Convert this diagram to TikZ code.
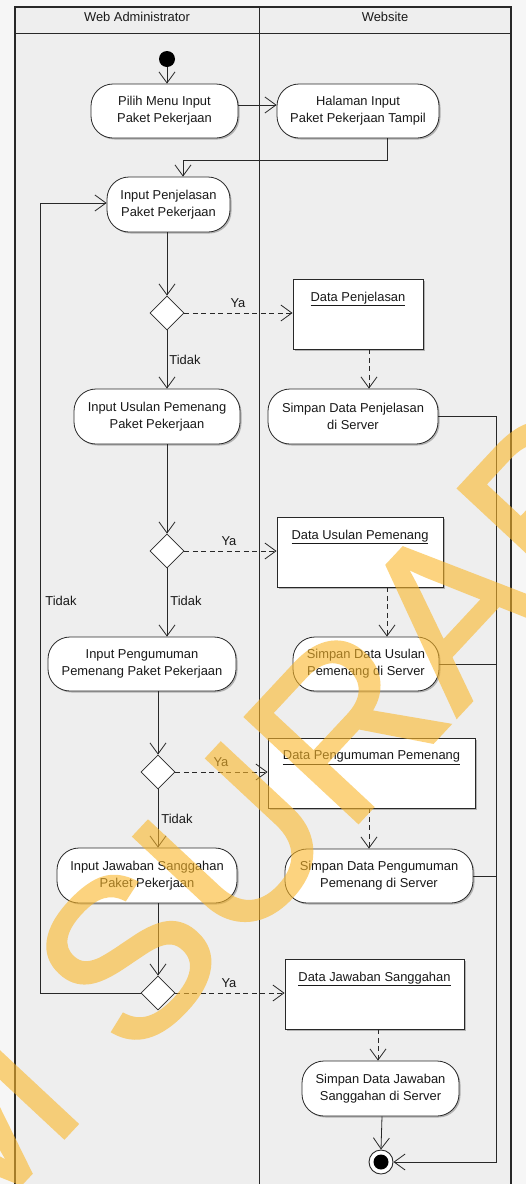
\documentclass[tikz,border=0pt]{standalone}
\usepackage{fontspec}
\setmainfont{Liberation Sans}
\newfontfamily\stampfont{Liberation Sans}[FakeBold=1.2]
\usetikzlibrary{arrows.meta,shapes.geometric,shadows}
\definecolor{lanebg}{RGB}{238,238,238}
\definecolor{pagebg}{RGB}{246,246,246}
\definecolor{edgecol}{RGB}{40,40,40}
\definecolor{inkcol}{RGB}{25,25,25}
\definecolor{wmyellow}{RGB}{250,183,42}

\begin{document}
\begin{tikzpicture}[x=1pt,y=-1pt,
  font=\fontsize{12.9}{17}\selectfont,
  every node/.style={text=inkcol},
  softshadow/.style={drop shadow={shadow xshift=1.5pt,shadow yshift=-1.5pt,fill=black,opacity=0.25}},
  act/.style={draw=edgecol,fill=white,rounded corners=22pt,line width=0.8pt,
    align=center,inner sep=0pt,minimum height=54pt,softshadow},
  obj/.style={draw=edgecol,fill=white,line width=0.9pt,inner sep=0pt,
    minimum height=70pt,softshadow},
  objtitle/.style={anchor=north,yshift=-13pt,inner sep=0pt},
  choice/.style={shape=diamond,draw=edgecol,fill=white,line width=0.8pt,
    minimum width=34pt,minimum height=34pt,inner sep=0pt},
  startdot/.style={circle,fill=black,minimum size=16pt,inner sep=0pt},
  enddot/.style={circle,draw=edgecol,fill=white,line width=0.9pt,minimum size=24pt,inner sep=0pt,
    path picture={\fill[black] (path picture bounding box.center) circle (7.5pt);}},
  lanehead/.style={inner sep=0pt},
  guard/.style={inner sep=0pt},
  flow/.style={draw=edgecol,line width=0.8pt,-{Straight Barb[length=11pt,width=16pt]}},
  dataflow/.style={flow,dash pattern=on 5pt off 3.5pt},
  plainline/.style={draw=edgecol,line width=0.8pt},
  wmark/.style={rotate=47,inner sep=0pt,text=wmyellow,
    font=\stampfont\fontsize{225}{225}\selectfont}
]
\useasboundingbox (0,0) rectangle (526,1184);

% swimlanes
\fill[pagebg] (0,0) rectangle (526,1184);
\fill[lanebg] (15,7) rectangle (511,1190);
\draw[edgecol,line width=0.8pt] (15,33) -- (511,33);
\draw[edgecol,line width=0.8pt] (259.5,7) -- (259.5,1190);
\draw[edgecol,line width=1.6pt] (15,1190) -- (15,7) -- (511,7) -- (511,1190);
\node[lanehead] (lane1) at (137,17) {Web Administrator};
\node[lanehead] (lane2) at (385,17) {Website};

% activities, decisions and objects
\node[startdot] (s0) at (167,59) {};
\node[act,minimum width=147pt] (a1) at (164.5,111) {Pilih Menu Input\\Paket Pekerjaan};
\node[act,minimum width=162pt] (w1) at (358,111) {Halaman Input\\Paket Pekerjaan Tampil};
\node[act,minimum width=123pt,minimum height=55pt] (a2) at (168.5,204.5) {Input Penjelasan\\Paket Pekerjaan};

\node[choice] (d1) at (167,313) {};
\node[obj,minimum width=130pt,label={[objtitle,name=o1t]north:\underline{Data Penjelasan}}] (o1) at (358,314) {};
\node[act,minimum width=166pt,minimum height=55pt] (a3) at (157,416.5) {Input Usulan Pemenang\\Paket Pekerjaan};
\node[act,minimum width=170pt,minimum height=55pt] (w2) at (353,416.5) {Simpan Data Penjelasan\\di Server};

\node[choice] (d2) at (167,551) {};
\node[obj,minimum width=166pt,label={[objtitle,name=o2t]north:\underline{Data Usulan Pemenang}}] (o2) at (360,552) {};
\node[act,minimum width=188pt] (a4) at (142,664) {Input Pengumuman\\Pemenang Paket Pekerjaan};
\node[act,minimum width=146pt] (w3) at (366,664) {Simpan Data Usulan\\Pemenang di Server};

\node[choice] (d3) at (158,772) {};
\node[obj,minimum width=207pt,label={[objtitle,name=o3t]north:\underline{Data Pengumuman Pemenang}}] (o3) at (371.5,773) {};
\node[act,minimum width=180pt,minimum height=55pt] (a5) at (147,875.5) {Input Jawaban Sanggahan\\Paket Pekerjaan};
\node[act,minimum width=188pt] (w4) at (379,876) {Simpan Data Pengumuman\\Pemenang di Server};

\node[choice] (d4) at (158,993) {};
\node[obj,minimum width=179pt,label={[objtitle,name=o4t]north:\underline{Data Jawaban Sanggahan}}] (o4) at (374.5,994) {};
\node[act,minimum width=157pt,minimum height=55pt] (w5) at (380.5,1088.5) {Simpan Data Jawaban\\Sanggahan di Server};
\node[enddot] (fin) at (381,1162) {};

% guard labels
\node[guard] (g1y) at (238,303) {Ya};
\node[guard] (g1n) at (185,360) {Tidak};
\node[guard] (g2y) at (229,541) {Ya};
\node[guard] (g2n) at (186,601) {Tidak};
\node[guard] (g3y) at (221,762) {Ya};
\node[guard] (g3n) at (177,819) {Tidak};
\node[guard] (g4y) at (229,983) {Ya};
\node[guard] (g4n) at (61,601) {Tidak};

% helper coordinates for bends and offsets
\coordinate (y105) at (0,105);
\coordinate (x387) at (387,0);
\coordinate (k1) at (183,160);
\coordinate (x369) at (369,0);
\coordinate (x387b) at (387,0);
\coordinate (x378) at (378,0);
\coordinate (x382) at (382,0);
\coordinate (rx) at (496,0);
\coordinate (lx) at (40,0);
\coordinate (ly) at (0,203);

% control flow
\draw[flow] (s0) -- (s0 |- a1.north);
\draw[flow] (a1.east |- y105) -- (w1.west |- y105);
\draw[flow] (w1.south -| x387) |- (k1) -- (k1 |- a2.north);
\draw[flow] (d1 |- a2.south) -- (d1.north);
\draw[flow] (d1.south) -- (d1 |- a3.north);
\draw[flow] (d2 |- a3.south) -- (d2.north);
\draw[flow] (d2.south) -- (d2 |- a4.north);
\draw[flow] (d3 |- a4.south) -- (d3.north);
\draw[flow] (d3.south) -- (d3 |- a5.north);
\draw[flow] (d4 |- a5.south) -- (d4.north);
\draw[flow] (d4.west) -- (d4.west -| lx) -- (lx |- ly) -- (a2.west |- ly);
\draw[flow] (w5.south -| x382) -- (fin.north);
\draw[flow] (w2.east) -- (w2.east -| rx) -- (rx |- fin) -- (fin.east);
\draw[plainline] (w3.east) -- (w3.east -| rx);
\draw[plainline] (w4.east) -- (w4.east -| rx);

% object flow
\draw[dataflow] (d1.east) -- (o1.west |- d1);
\draw[dataflow] (d2.east) -- (o2.west |- d2);
\draw[dataflow] (d3.east) -- (o3.west |- d3);
\draw[dataflow] (d4.east) -- (o4.west |- d4);
\draw[dataflow] (o1.south -| x369) -- (x369 |- w2.north);
\draw[dataflow] (o2.south -| x387b) -- (x387b |- w3.north);
\draw[dataflow] (o3.south -| x369) -- (x369 |- w4.north);
\draw[dataflow] (o4.south -| x378) -- (x378 |- w5.north);

% watermark stamped over the sheet
\begin{scope}[transparency group,opacity=0.6]
\clip (0,0) rectangle (526,1184);
\node[wmark,anchor=base west] (wm2) at (132.6,1064.7) {SURABAYA};
\node[wmark,anchor=base east] (wm1) at (89.9,1110.5) {STIKOM};
\end{scope}
\end{tikzpicture}
\end{document}
